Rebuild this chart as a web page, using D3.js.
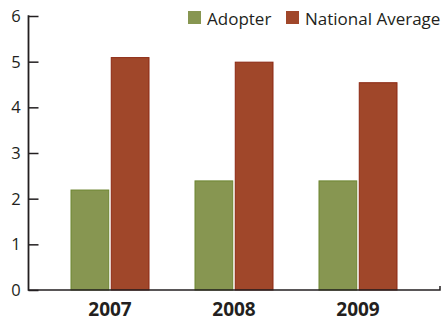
<!DOCTYPE html>
<html>
<head>
<meta charset="utf-8">
<script src="https://cdn.jsdelivr.net/npm/d3@7"></script>
<style>
  html, body { margin: 0; padding: 0; background: #fff; }
  svg { display: block; font-family: "Open Sans", "DejaVu Sans", sans-serif; }
</style>
</head>
<body>
<svg id="chart" width="442" height="322"></svg>
<script>
// Chart data
const years = ["2007", "2008", "2009"];
const seriesNames = ["Adopter", "National Average"];
const adopter = [2.2, 2.4, 2.4];
const nationalAverage = [5.1, 5.0, 4.55];
const yTicks = [0, 1, 2, 3, 4, 5, 6];

const fills = ["#879651", "#a0472a"];
const strokes = ["#6d8530", "#8c2812"];
const textColor = "#231f20";

const svg = d3.select("#chart");
const axisX = 28.5, baseY = 290, topY = 16, rightX = 440;

const x = d3.scaleBand().domain(years).range([48, 420]).padding(0);
const y = d3.scaleLinear().domain([0, 6]).range([baseY, topY]);

const groupW = 79, barW = 38, gap = 3;
const inner = d3.scaleBand().domain(seriesNames).range([0, groupW]).paddingInner(gap / groupW);

const rows = years.map((yr, i) => ({ year: yr, values: [adopter[i], nationalAverage[i]] }));

// Bars
const g = svg.append("g");
rows.forEach(r => {
  const cx = x(r.year) + x.bandwidth() / 2;
  r.values.forEach((v, j) => {
    const x0 = cx - groupW / 2 + inner(seriesNames[j]);
    g.append("rect")
      .attr("x", x0 + 0.5)
      .attr("y", y(v) + 0.5)
      .attr("width", inner.bandwidth() - 1)
      .attr("height", baseY - y(v) - 0.5)
      .attr("fill", fills[j])
      .attr("stroke", strokes[j])
      .attr("stroke-width", 1);
  });
});

// Y axis
const yAxis = d3.axisRight(y).tickValues(yTicks).tickSize(10).tickFormat("");
const ya = svg.append("g").attr("transform", `translate(${axisX},0)`).call(yAxis);
ya.select(".domain").remove();
ya.selectAll("line").attr("stroke", textColor).attr("stroke-width", 1.5);
svg.append("line")
  .attr("x1", axisX).attr("x2", axisX).attr("y1", topY - 0.75).attr("y2", baseY + 0.75)
  .attr("stroke", textColor).attr("stroke-width", 1.8);
svg.append("g").selectAll("text").data(yTicks).join("text")
  .attr("x", 16).attr("y", d => y(d)).attr("dy", "0.36em")
  .attr("text-anchor", "middle")
  .attr("font-size", 16.5).attr("fill", textColor)
  .text(d => d);

// X axis baseline with end tick
svg.append("path")
  .attr("d", `M${axisX},${baseY}H${rightX}V${baseY - 4}`)
  .attr("fill", "none").attr("stroke", textColor).attr("stroke-width", 1.5);

// Year labels
svg.append("g").selectAll("text").data(years).join("text")
  .attr("x", d => x(d) + x.bandwidth() / 2)
  .attr("y", 316)
  .attr("text-anchor", "middle")
  .attr("font-size", 19).attr("font-weight", "bold").attr("fill", textColor)
  .text(d => d);

// Legend
const legendPos = [188, 286];
const lg = svg.append("g");
seriesNames.forEach((name, j) => {
  lg.append("rect")
    .attr("x", legendPos[j]).attr("y", 11).attr("width", 13).attr("height", 13)
    .attr("fill", fills[j]);
  lg.append("text")
    .attr("x", legendPos[j] + 19).attr("y", 24.5)
    .attr("font-size", 17).attr("fill", textColor)
    .text(name);
});
</script>
</body>
</html>
